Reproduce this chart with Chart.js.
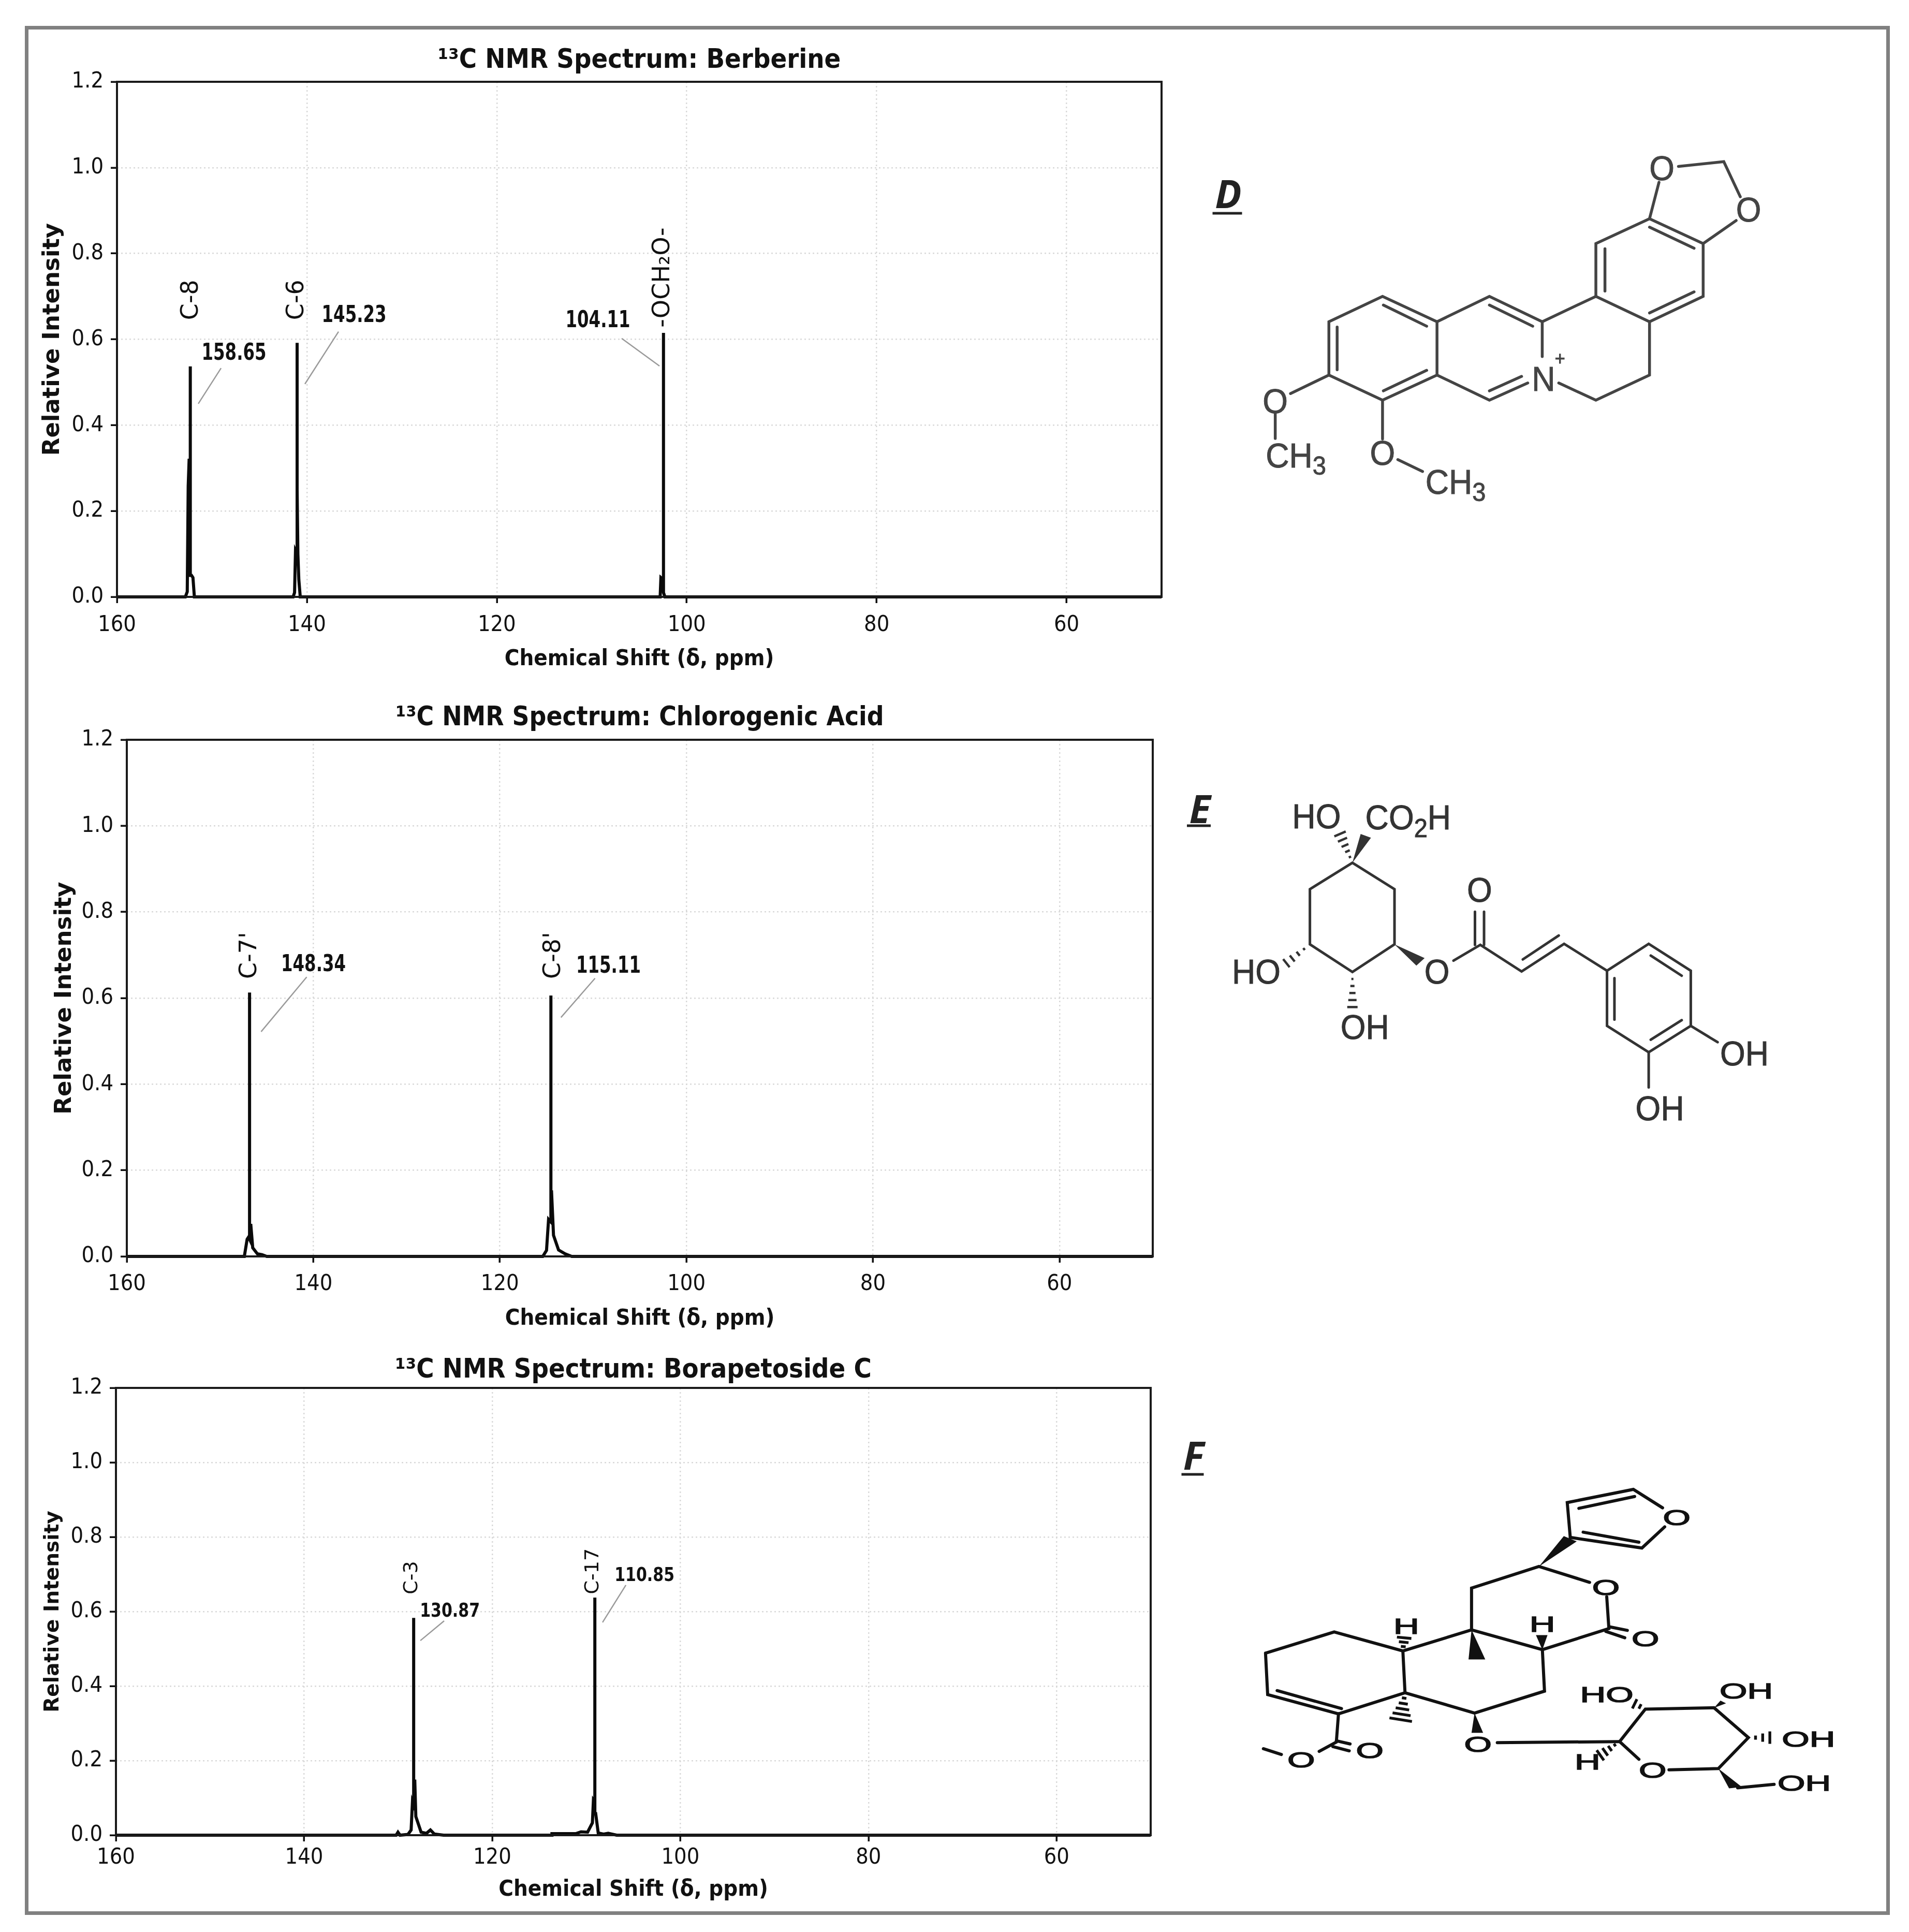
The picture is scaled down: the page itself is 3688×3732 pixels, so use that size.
<!DOCTYPE html>
<html>
<head>
<meta charset="utf-8">
<title>13C NMR spectra</title>
<script src="https://cdn.jsdelivr.net/npm/chart.js@4"></script>
<style>
  html, body { margin: 0; background: #fff; }
  #page { position: relative; width: 3688px; height: 3732px; background: #fff; overflow: hidden; }
  #frame { position: absolute; left: 48px; top: 50px; width: 3589px; height: 3635px; border: 7px solid #808080; }
  canvas { position: absolute; }
  #structures { position: absolute; left: 0; top: 0; }
</style>
</head>
<body>
<div id="page">
  <div id="frame"></div>
  <canvas id="berberine"></canvas>
  <canvas id="chlorogenic"></canvas>
  <canvas id="borapetoside"></canvas>
  <svg id="structures" width="3688" height="3732" xmlns="http://www.w3.org/2000/svg"></svg>
</div>
<script>
// axes, shared by the three spectra
const shiftTicks = [160, 140, 120, 100, 80, 60];
const intensityTicks = [0, 0.2, 0.4, 0.6, 0.8, 1.0, 1.2];

// Berberine
const berberineShift = [160, 152.8, 152.6, 152.5, 152.4, 152.28, 152.28, 152.28, 152.15, 152.0, 151.85, 141.45, 141.3, 141.2, 141.03, 141.03, 141.03, 140.95, 140.85, 140.7, 102.8, 102.72, 102.45, 102.45, 102.45, 102.3, 50];
const berberineIntensity = [0, 0, 0.012, 0.258, 0.322, 0.3, 0.537, 0.05, 0.05, 0.045, 0, 0, 0.01, 0.108, 0.1, 0.592, 0.25, 0.1, 0.04, 0, 0, 0.045, 0.04, 0.615, 0.01, 0, 0];
const berberinePeakNames = ["C-8", "C-6", "-OCH₂O-"];
const berberinePeakNameX = [152.15, 141.03, 102.5];
const berberinePeakNameY = [0.692, 0.692, 0.744];
const berberineShiftLabels = ["158.65", "145.23", "104.11"];
const berberineShiftLabelX = [147.68, 135.03, 109.36];
const berberineShiftLabelY = [0.566, 0.655, 0.642];
const berberineLeaders = [[149.04, 0.533, 151.44, 0.45], [136.67, 0.618, 140.21, 0.496], [106.85, 0.602, 102.87, 0.538]];

// Chlorogenic acid
const chlorogenicShift = [160, 147.4, 147.1, 146.95, 146.84, 146.84, 146.84, 146.7, 146.5, 146.0, 145.5, 145.0, 115.4, 115.0, 114.78, 114.53, 114.53, 114.53, 114.46, 114.25, 113.71, 113.0, 112.3, 50];
const chlorogenicIntensity = [0, 0, 0.04, 0.045, 0.04, 0.613, 0.072, 0.072, 0.02, 0.006, 0.004, 0, 0, 0.014, 0.086, 0.08, 0.606, 0.15, 0.15, 0.049, 0.015, 0.006, 0, 0];
const chlorogenicPeakNames = ["C-7'", "C-8'"];
const chlorogenicPeakNameX = [146.77, 114.22];
const chlorogenicPeakNameY = [0.699, 0.699];
const chlorogenicShiftLabels = ["148.34", "115.11"];
const chlorogenicShiftLabelX = [139.99, 108.36];
const chlorogenicShiftLabelY = [0.677, 0.673];
const chlorogenicLeaders = [[140.71, 0.649, 145.6, 0.522], [109.8, 0.646, 113.45, 0.555]];

// Borapetoside C
const borapetosideShift = [160, 130.22, 130.02, 129.8, 128.96, 128.62, 128.48, 128.35, 128.35, 128.35, 128.23, 128.12, 127.56, 126.99, 126.57, 126.15, 125.17, 113.66, 113.65, 111.12, 110.56, 109.86, 109.35, 109.24, 109.09, 109.09, 109.09, 109.0, 108.73, 108.17, 107.67, 106.77, 50];
const borapetosideIntensity = [0, 0, 0.008, 0, 0.002, 0.014, 0.089, 0.08, 0.583, 0.145, 0.145, 0.05, 0.008, 0.005, 0.014, 0.003, 0, 0, 0.004, 0.004, 0.009, 0.008, 0.033, 0.095, 0.09, 0.6375, 0.058, 0.058, 0.006, 0.003, 0.005, 0, 0];
const borapetosidePeakNames = ["C-3", "C-17"];
const borapetosidePeakNameX = [128.52, 109.26];
const borapetosidePeakNameY = [0.691, 0.708];
const borapetosideShiftLabels = ["130.87", "110.85"];
const borapetosideShiftLabelX = [124.5, 103.81];
const borapetosideShiftLabelY = [0.6, 0.696];
const borapetosideLeaders = [[125.11, 0.575, 127.64, 0.522], [105.79, 0.671, 108.27, 0.571]];

const FONT = "'DejaVu Sans Condensed', 'DejaVu Sans', sans-serif";

// draws the box round the plot plus the peak names and shift values
const peakLabelPlugin = {
  id: "peakLabels",
  afterDraw(chart, args, opts) {
    const { ctx, chartArea: a, scales: { x, y } } = chart;
    ctx.save();
    ctx.strokeStyle = "#1a1a1a";
    ctx.lineWidth = 4;
    ctx.strokeRect(a.left, a.top, a.right - a.left, a.bottom - a.top);
    ctx.fillStyle = "#111";
    ctx.textAlign = "center";
    ctx.textBaseline = "middle";
    opts.names.forEach((name, i) => {
      ctx.save();
      ctx.translate(x.getPixelForValue(opts.nameX[i]), y.getPixelForValue(opts.nameY[i]));
      ctx.rotate(-Math.PI / 2);
      ctx.font = `${opts.nameSize}px 'DejaVu Sans'`;
      ctx.fillText(name, 0, 0);
      ctx.restore();
    });
    opts.values.forEach((value, i) => {
      ctx.save();
      ctx.translate(x.getPixelForValue(opts.valueX[i]), y.getPixelForValue(opts.valueY[i]));
      ctx.scale(opts.valueSqueeze, 1);
      ctx.font = `bold ${opts.valueSize}px 'DejaVu Sans'`;
      ctx.fillText(value, 0, 0);
      ctx.restore();
    });
    ctx.restore();
  }
};

function drawSpectrum(id, s) {
  const canvas = document.getElementById(id);
  const boxLeft = s.plot.left - 170;
  const boxTop = s.plot.top - 90;
  const boxBottom = s.plot.bottom + 150;
  const boxRight = s.plot.right + 30;
  canvas.style.left = boxLeft + "px";
  canvas.style.top = boxTop + "px";
  canvas.width = boxRight - boxLeft;
  canvas.height = boxBottom - boxTop;

  const leaderSets = s.leaders.map(l => ({
    data: [{ x: l[0], y: l[1] }, { x: l[2], y: l[3] }],
    borderColor: "#9a9a9a",
    borderWidth: 2.5,
    pointRadius: 0,
    showLine: true
  }));

  new Chart(canvas, {
    type: "scatter",
    data: {
      datasets: [{
        data: s.shift.map((v, i) => ({ x: v, y: s.intensity[i] })),
        borderColor: "#0a0a0a",
        borderWidth: 6,
        borderJoinStyle: "miter",
        pointRadius: 0,
        showLine: true,
        tension: 0,
        clip: false
      }, ...leaderSets]
    },
    plugins: [peakLabelPlugin],
    options: {
      responsive: false,
      animation: false,
      devicePixelRatio: 1,
      layout: { padding: { left: 0, right: 30, top: 0, bottom: 0 } },
      plugins: {
        legend: { display: false },
        tooltip: { enabled: false },
        title: {
          display: true,
          // only as wide as the plot, so the title centres on the plot
          fullSize: false,
          text: s.title,
          color: "#111",
          font: { family: FONT, size: s.titleSize, weight: "bold", lineHeight: 1 },
          padding: { top: 90 - s.titleSize / 2 - s.titleGap, bottom: s.titleGap - s.titleSize / 2 }
        },
        peakLabels: {
          names: s.names, nameX: s.nameX, nameY: s.nameY, nameSize: s.nameSize,
          values: s.values, valueX: s.valueX, valueY: s.valueY,
          valueSize: s.valueSize, valueSqueeze: s.valueSqueeze
        }
      },
      scales: {
        x: {
          type: "linear",
          reverse: true,
          min: 50,
          max: 160,
          afterBuildTicks: scale => { scale.ticks = shiftTicks.map(v => ({ value: v })); },
          afterFit: scale => { scale.height = 150; },
          ticks: {
            color: "#111",
            autoSkip: false,
            maxRotation: 0,
            padding: s.tickGap,
            font: { family: FONT, size: 43 }
          },
          grid: { color: "#d9d9d9", lineWidth: 2.5, tickColor: "#111", tickWidth: 3.5, tickLength: 12 },
          border: { display: false, dash: [3, 5] },
          title: {
            display: true,
            text: "Chemical Shift (δ, ppm)",
            color: "#111",
            font: { family: FONT, size: 43.5, weight: "bold", lineHeight: 1 },
            padding: { top: 0, bottom: 150 - s.labelGap - 22 }
          }
        },
        y: {
          min: 0,
          max: 1.2,
          afterBuildTicks: scale => { scale.ticks = intensityTicks.map(v => ({ value: v })); },
          afterFit: scale => { scale.width = 170; },
          ticks: {
            color: "#111",
            padding: 14,
            callback: v => v.toFixed(1),
            font: { family: FONT, size: 43 }
          },
          grid: { color: "#d9d9d9", lineWidth: 2.5, tickColor: "#111", tickWidth: 3.5, tickLength: 12 },
          border: { display: false, dash: [3, 5] },
          title: {
            display: true,
            text: "Relative Intensity",
            color: "#111",
            font: { family: "'DejaVu Sans', sans-serif", size: s.yTitleSize, weight: "bold", lineHeight: 1 },
            padding: { top: s.yTitlePad, bottom: 0 }
          }
        }
      }
    }
  });
}

drawSpectrum("berberine", {
  plot: { left: 226, right: 2244, top: 158, bottom: 1153 },
  title: "¹³C NMR Spectrum: Berberine", titleSize: 52, titleGap: 41, labelGap: 120, tickGap: 17, yTitlePad: 24, yTitleSize: 45,
  shift: berberineShift, intensity: berberineIntensity, leaders: berberineLeaders,
  names: berberinePeakNames, nameX: berberinePeakNameX, nameY: berberinePeakNameY, nameSize: 46,
  values: berberineShiftLabels, valueX: berberineShiftLabelX, valueY: berberineShiftLabelY,
  valueSize: 45, valueSqueeze: 0.72
});
drawSpectrum("chlorogenic", {
  plot: { left: 245, right: 2227, top: 1429, bottom: 2427 },
  title: "¹³C NMR Spectrum: Chlorogenic Acid", titleSize: 51, titleGap: 41, labelGap: 120, tickGap: 16, yTitlePad: 28, yTitleSize: 45,
  shift: chlorogenicShift, intensity: chlorogenicIntensity, leaders: chlorogenicLeaders,
  names: chlorogenicPeakNames, nameX: chlorogenicPeakNameX, nameY: chlorogenicPeakNameY, nameSize: 46,
  values: chlorogenicShiftLabels, valueX: chlorogenicShiftLabelX, valueY: chlorogenicShiftLabelY,
  valueSize: 45, valueSqueeze: 0.72
});
drawSpectrum("borapetoside", {
  plot: { left: 224, right: 2223, top: 2681, bottom: 3545 },
  title: "¹³C NMR Spectrum: Borapetoside C", titleSize: 52, titleGap: 34, labelGap: 105, tickGap: 6, yTitlePad: 29, yTitleSize: 39,
  shift: borapetosideShift, intensity: borapetosideIntensity, leaders: borapetosideLeaders,
  names: borapetosidePeakNames, nameX: borapetosidePeakNameX, nameY: borapetosidePeakNameY, nameSize: 38,
  values: borapetosideShiftLabels, valueX: borapetosideShiftLabelX, valueY: borapetosideShiftLabelY,
  valueSize: 38, valueSqueeze: 0.79
});

// chemical structures beside the spectra: line drawings, not chart data
const svg = document.getElementById("structures");
const NS = "http://www.w3.org/2000/svg";

function addEl(tag, attrs, text) {
  const el = document.createElementNS(NS, tag);
  Object.keys(attrs).forEach(k => el.setAttribute(k, attrs[k]));
  if (text) el.textContent = text;
  svg.appendChild(el);
  return el;
}

function drawStructure(m) {
  const px = x => m.x + x * m.sx;
  const py = y => m.y + y * m.sy;
  m.bonds.forEach(b => {
    const pts = [];
    for (let i = 0; i < b.length; i += 2) pts.push(px(b[i]) + "," + py(b[i + 1]));
    addEl("polyline", { points: pts.join(" "), fill: "none", stroke: m.color, "stroke-width": m.width, "stroke-linejoin": "miter", "stroke-linecap": "round" });
  });
  (m.wedges || []).forEach(b => {
    const pts = [];
    for (let i = 0; i < b.length; i += 2) pts.push(px(b[i]) + "," + py(b[i + 1]));
    addEl("polygon", { points: pts.join(" "), fill: m.color });
  });
  (m.hashes || []).forEach(h => {
    // h = start x, start y, end x, end y, number of strokes, end half width
    const n = h[4];
    const dx = h[2] - h[0], dy = h[3] - h[1];
    const ux = px(h[0] + dx) - px(h[0]), uy = py(h[1] + dy) - py(h[1]);
    const len = Math.hypot(ux, uy);
    for (let i = 1; i <= n; i++) {
      const t = i / n;
      const cx = px(h[0]) + ux * t, cy = py(h[1]) + uy * t;
      const hw = h[5] * t;
      addEl("line", { x1: cx - uy / len * hw, y1: cy + ux / len * hw, x2: cx + uy / len * hw, y2: cy - ux / len * hw, stroke: m.color, "stroke-width": m.width * 0.9 });
    }
  });
  m.texts.forEach(t => {
    const g = addEl("g", { transform: `translate(${px(t[1])} ${py(t[2])}) scale(${m.textSqueeze} 1)` });
    const size = t[3] || m.fontSize;
    const label = document.createElementNS(NS, "text");
    label.setAttribute("text-anchor", "middle");
    label.setAttribute("dominant-baseline", "central");
    label.setAttribute("font-family", "'Liberation Sans', Arial, sans-serif");
    label.setAttribute("font-size", size);
    label.setAttribute("fill", m.color);
    label.setAttribute("stroke", m.color);
    label.setAttribute("stroke-width", m.textStroke);
    // "_3" style parts are subscripts
    const parts = t[0].split(/(_\d)/);
    parts.forEach(p => {
      if (!p) return;
      const span = document.createElementNS(NS, "tspan");
      if (p[0] === "_") {
        span.textContent = p[1];
        span.setAttribute("font-size", size * 0.75);
        span.setAttribute("dy", size * 0.3);
      } else {
        span.textContent = p;
        if (parts.indexOf(p) > 0) span.setAttribute("dy", -size * 0.3);
      }
      label.appendChild(span);
    });
    g.appendChild(label);
  });
}

function panelLetter(letter, x, y, underlineY, underlineW) {
  addEl("text", { x: x, y: y, "text-anchor": "middle", "dominant-baseline": "central", "font-family": "'Open Sans', 'Liberation Sans', sans-serif", "font-weight": "bold", "font-style": "italic", "font-size": 76, fill: "#222" }, letter);
  addEl("line", { x1: x - underlineW / 2 - 2, y1: underlineY, x2: x + underlineW / 2 - 2, y2: underlineY, stroke: "#222", "stroke-width": 5 });
}

panelLetter("D", 2373, 372, 412, 57);
panelLetter("E", 2318, 1560, 1595, 46);
panelLetter("F", 2306, 2809, 2848, 43);

drawStructure({
  x: 2250, y: 250, sx: 1 / 1.2544, sy: 1 / 1.96, color: "#444", width: 5.5, fontSize: 66, textSqueeze: 0.95, textStroke: 1,
  bonds: [
    [398, 930, 398, 728, 528, 632, 660, 728, 660, 930, 528, 1025, 398, 930],
    [660, 728, 787, 632, 915, 728, 915, 860],
    [660, 930, 787, 1025, 880, 960],
    [915, 728, 1045, 632, 1175, 728, 1175, 930, 1045, 1025, 955, 960],
    [1045, 632, 1045, 432, 1175, 338, 1305, 432, 1305, 632, 1175, 728],
    [1175, 338, 1198, 200], [1245, 140, 1355, 122, 1395, 255], [1385, 345, 1305, 432],
    [418, 748, 418, 910], [530, 665, 635, 745], [530, 990, 635, 912], [787, 665, 892, 745],
    [787, 990, 865, 935], [1067, 452, 1067, 612], [1175, 370, 1283, 450], [1283, 615, 1175, 695],
    [398, 930, 305, 1000], [268, 1075, 268, 1170], [528, 1025, 528, 1172], [565, 1250, 625, 1295]
  ],
  texts: [
    ["O", 1205, 148], ["O", 1415, 305], ["N", 918, 945], ["+", 958, 865, 36],
    ["O", 268, 1030], ["CH_3", 318, 1235], ["O", 528, 1225], ["CH_3", 705, 1335]
  ]
});

drawStructure({
  x: 2250, y: 1480, sx: 1 / 1.2544, sy: 1 / 2.063, color: "#333", width: 5, fontSize: 66, textSqueeze: 0.95, textStroke: 1,
  bonds: [
    [455, 385, 557, 490, 557, 710, 455, 820, 352, 710, 352, 490, 455, 385],
    [700, 775, 765, 712, 865, 818, 968, 708, 1072, 815],
    [752, 712, 752, 580], [774, 712, 774, 580], [868, 770, 955, 675],
    [1072, 815, 1173, 708, 1275, 815, 1275, 1035, 1173, 1140, 1072, 1035, 1072, 815],
    [1178, 755, 1253, 835], [1090, 845, 1090, 1010], [1178, 1090, 1253, 1012],
    [1275, 1035, 1340, 1100], [1173, 1140, 1173, 1280]
  ],
  wedges: [[455, 385, 475, 270, 500, 285], [557, 710, 630, 765, 610, 795]],
  hashes: [[455, 385, 425, 270, 5, 12], [352, 710, 295, 785, 4, 10], [455, 820, 455, 960, 5, 10]],
  texts: [
    ["HO", 368, 200], ["CO_2H", 590, 205], ["HO", 222, 820], ["OH", 485, 1040],
    ["O", 660, 820], ["O", 763, 495], ["OH", 1405, 1145], ["OH", 1200, 1365]
  ]
});

drawStructure({
  x: 2250, y: 2730, sx: 1 / 1.206, sy: 1 / 1.96, color: "#111", width: 6, fontSize: 43, textSqueeze: 1.6, textStroke: 1.5,
  bonds: [
    [235, 908, 395, 828, 555, 900, 560, 1058, 405, 1138, 240, 1065, 235, 908], [262, 1050, 412, 1118],
    [555, 900, 715, 820, 880, 895, 885, 1052, 722, 1135, 560, 1058],
    [715, 820, 715, 662, 872, 580, 990, 640], [1030, 695, 1035, 815, 880, 895],
    [1035, 808, 1078, 822], [1028, 826, 1072, 850],
    [945, 470, 938, 338, 1092, 288, 1160, 358], [1165, 430, 1112, 510, 945, 470],
    [965, 360, 1095, 315], [975, 450, 1105, 488],
    [405, 1138, 400, 1245, 360, 1280], [272, 1292, 230, 1270], [400, 1240, 432, 1252], [392, 1262, 430, 1278],
    [775, 1247, 1060, 1243], [1105, 1310, 1060, 1243, 1120, 1120, 1280, 1115, 1360, 1228, 1290, 1345, 1175, 1350],
    [1335, 1418, 1420, 1405]
  ],
  wedges: [
    [872, 580, 930, 465, 960, 485], [880, 895, 865, 840, 892, 840], [715, 820, 708, 932, 747, 932],
    [722, 1135, 715, 1210, 742, 1210], [1290, 1345, 1315, 1420, 1345, 1415], [1280, 1115, 1295, 1088, 1308, 1098]
  ],
  hashes: [
    [555, 900, 558, 850, 3, 14], [560, 1058, 550, 1160, 5, 22], [1060, 1243, 1015, 1295, 4, 12],
    [1120, 1120, 1095, 1100, 2, 10], [1360, 1228, 1410, 1228, 3, 12]
  ],
  texts: [
    ["H", 563, 805], ["H", 880, 798], ["O", 1028, 658], ["O", 1120, 852], ["O", 1193, 393],
    ["O", 478, 1275], ["O", 318, 1312], ["O", 730, 1252], ["O", 1137, 1350], ["H", 985, 1320],
    ["HO", 1030, 1065], ["OH", 1355, 1050], ["OH", 1500, 1232], ["OH", 1490, 1400]
  ]
});
</script>
</body>
</html>
